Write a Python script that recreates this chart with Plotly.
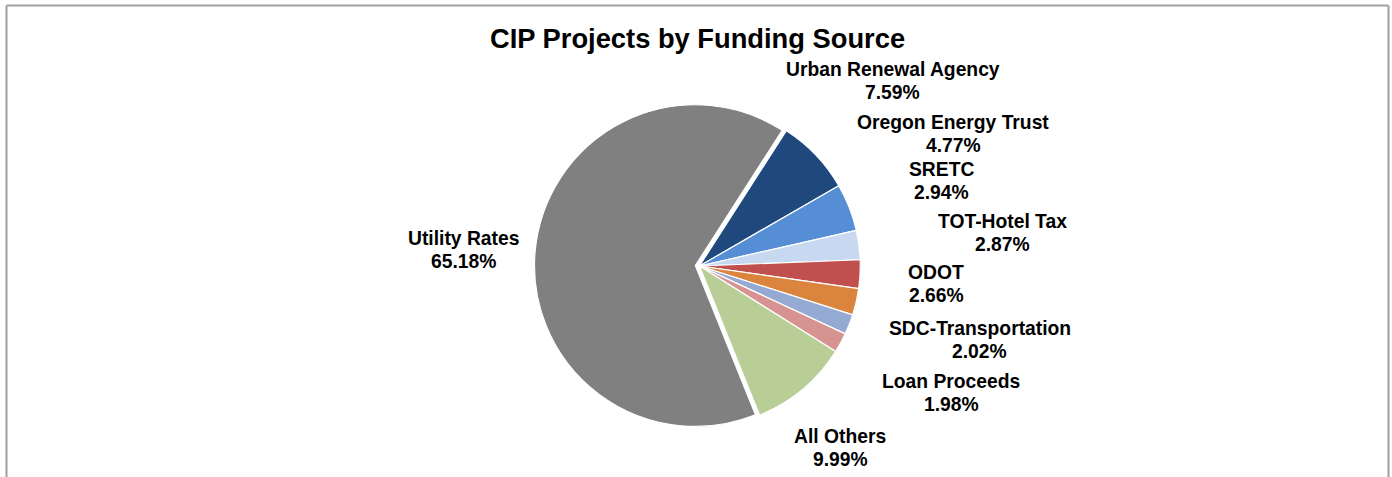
import plotly.graph_objects as go

# ---- data ----
sources = ["Urban Renewal Agency", "Oregon Energy Trust", "SRETC", "TOT-Hotel Tax",
           "ODOT", "SDC-Transportation", "Loan Proceeds", "All Others", "Utility Rates"]
shares = [7.59, 4.77, 2.94, 2.87, 2.66, 2.02, 1.98, 9.99, 65.18]
title_text = "CIP Projects by Funding Source"

# ---- styles ----
colors = ["#1F497D", "#558ED5", "#C6D9F1", "#C0504D", "#DB843E",
          "#94AAD3", "#D79391", "#B9CE97", "#808080"]
pulls = [0, 0, 0, 0, 0, 0, 0, 0, 0.026]
# label centre positions in pixels (x, y from top)
label_pos = [(893, 81), (953, 134), (941, 181), (1002, 233), (936, 284),
             (980, 340), (951, 393), (840, 448), (463, 250)]
LINE_GAP = 23

W, H = 1392, 477
FONT = "Arial, 'Liberation Sans', sans-serif"

fig = go.Figure(go.Pie(
    labels=sources,
    values=shares,
    sort=False,
    direction="clockwise",
    rotation=32.7,
    pull=pulls,
    marker=dict(colors=colors, line=dict(color="white", width=1.2)),
    textinfo="none",
    hoverinfo="skip",
    showlegend=False,
    domain=dict(x=[0.30, 0.705], y=[(H - 431) / H, (H - 101) / H]),
))

annotations = []
for name, val, (px, py) in zip(sources, shares, label_pos):
    for txt, yy in ((name, py - LINE_GAP / 2), (f"{val:.2f}%", py + LINE_GAP / 2)):
        annotations.append(dict(
            x=px / W, y=1 - yy / H, xref="paper", yref="paper",
            text=f"<b>{txt}</b>",
            showarrow=False, xanchor="center", yanchor="middle", align="center",
            font=dict(family=FONT, size=19.3, color="black"),
        ))
annotations.append(dict(
    x=697 / W, y=1 - 38 / H, xref="paper", yref="paper",
    text=f"<b>{title_text}</b>", showarrow=False,
    xanchor="center", yanchor="middle",
    font=dict(family=FONT, size=27.3, color="black"),
))

border = "#A0A0A0"
shapes = [
    dict(type="line", xref="paper", yref="paper", x0=6.5 / W, x1=6.5 / W,
         y0=-0.05, y1=1 - 5.5 / H, line=dict(color=border, width=2)),
    dict(type="line", xref="paper", yref="paper", x0=6.5 / W, x1=1388.5 / W,
         y0=1 - 5.5 / H, y1=1 - 5.5 / H, line=dict(color=border, width=2)),
    dict(type="line", xref="paper", yref="paper", x0=1388.5 / W, x1=1388.5 / W,
         y0=-0.05, y1=1 - 5.5 / H, line=dict(color=border, width=2)),
]

fig.update_layout(
    width=W, height=H,
    margin=dict(l=0, r=0, t=0, b=0),
    paper_bgcolor="white", plot_bgcolor="white",
    annotations=annotations, shapes=shapes,
)

fig.write_html("out.html",
               config={"displayModeBar": False},
               post_script="document.body.style.margin='0';document.body.style.overflow='hidden';")
